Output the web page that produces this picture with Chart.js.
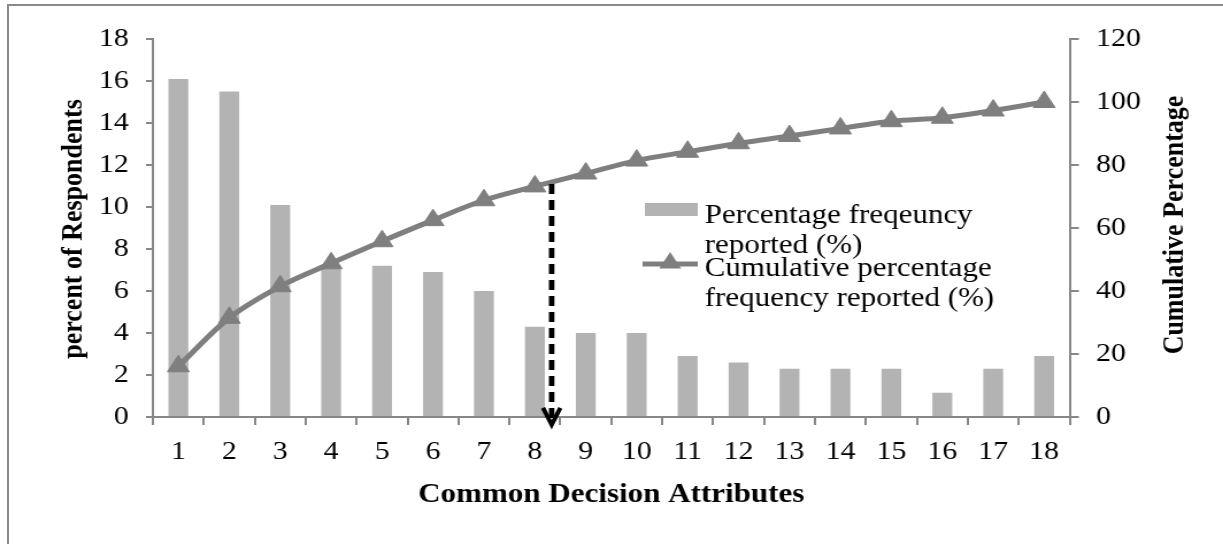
<!DOCTYPE html>
<html>
<head>
<meta charset="utf-8">
<script src="https://cdn.jsdelivr.net/npm/chart.js@4/dist/chart.umd.min.js"></script>
<style>
  html, body { margin: 0; padding: 0; background: #fff; }
  #wrap { position: relative; width: 1223px; height: 544px; overflow: hidden; }
  #stretch { position: absolute; left: 0; top: 0; width: 1064px; height: 544px;
             transform: scaleX(1.1495); transform-origin: 0 0; }
  #frame { position: absolute; left: 7px; top: 4px; width: 1300px; height: 700px;
           border-left: 2px solid #8a8a8a; border-top: 2px solid #8a8a8a; pointer-events: none; }
</style>
</head>
<body>
<div id="wrap">
  <div id="stretch"><canvas id="c" width="1064" height="544"></canvas></div>
  <div id="frame"></div>
</div>
<script>
// ---- data ----
const categories = ['1','2','3','4','5','6','7','8','9','10','11','12','13','14','15','16','17','18'];
const percentFrequency = [16.1, 15.5, 10.1, 7.2, 7.2, 6.9, 6.0, 4.3, 4.0, 4.0, 2.9, 2.6, 2.3, 2.3, 2.3, 1.15, 2.3, 2.9];
const cumulativePercent = [16.1, 31.5, 41.5, 48.8, 55.8, 62.5, 68.8, 73.2, 77.3, 81.4, 84.2, 86.9, 89.2, 91.6, 93.9, 95.0, 97.3, 100];
const leftTicks = [0, 2, 4, 6, 8, 10, 12, 14, 16, 18];
const rightTicks = [0, 20, 40, 60, 80, 100, 120];
const barLegend = ['Percentage freqeuncy', 'reported (%)'];
const lineLegend = ['Cumulative percentage', 'frequency reported (%)'];
const xTitle = 'Common Decision Attributes';
const yLeftTitle = 'percent of Respondents';
const yRightTitle = 'Cumulative Percentage';
// arrow marking the cut-off: category position (index) and value range on right axis
const arrowIndex = 7.33;
const arrowFrom = 74;
const arrowTo = -2.5;

const SERIF = "'Liberation Serif', 'Times New Roman', serif";
const AXIS_GREY = '#878787';
const BAR_GREY = '#b3b3b3';
const LINE_GREY = '#7f7f7f';

const overlay = {
  id: 'overlay',
  afterDraw(chart) {
    const ctx = chart.ctx;
    const ca = chart.chartArea;
    const x = chart.scales.x, y1 = chart.scales.y1;
    ctx.save();
    // arrow
    const ax = x.getPixelForValue(arrowIndex);
    const top = y1.getPixelForValue(arrowFrom);
    const tip = y1.getPixelForValue(arrowTo);
    ctx.strokeStyle = '#000';
    ctx.lineWidth = 4.8;
    ctx.setLineDash([10, 6]);
    ctx.beginPath(); ctx.moveTo(ax, top); ctx.lineTo(ax, tip - 3); ctx.stroke();
    ctx.setLineDash([]);
    ctx.lineWidth = 3.8;
    ctx.lineJoin = 'miter';
    ctx.beginPath();
    ctx.moveTo(ax - 7.5, tip - 17); ctx.lineTo(ax, tip); ctx.lineTo(ax + 7.5, tip - 17);
    ctx.stroke();

    // legend
    const lx = ca.left + 428;
    ctx.fillStyle = BAR_GREY;
    ctx.fillRect(lx, 203, 46, 13);
    ctx.strokeStyle = LINE_GREY; ctx.lineWidth = 5;
    ctx.beginPath(); ctx.moveTo(lx - 2, 264); ctx.lineTo(lx + 46, 264); ctx.stroke();
    ctx.fillStyle = LINE_GREY;
    const tcx = lx + 22, tcy = 263, r = 11;
    ctx.beginPath();
    ctx.moveTo(tcx, tcy - r);
    ctx.lineTo(tcx + r * 0.866, tcy + r * 0.5);
    ctx.lineTo(tcx - r * 0.866, tcy + r * 0.5);
    ctx.closePath(); ctx.fill();
    ctx.fillStyle = '#000';
    ctx.font = '27px ' + SERIF;
    ctx.textAlign = 'left'; ctx.textBaseline = 'alphabetic';
    const tx = lx + 52;
    ctx.fillText(barLegend[0], tx, 223);
    ctx.fillText(barLegend[1], tx, 253);
    ctx.fillText(lineLegend[0], tx, 276);
    ctx.fillText(lineLegend[1], tx, 306);

    // axis titles
    ctx.textAlign = 'center'; ctx.textBaseline = 'middle';
    ctx.font = 'bold 27px ' + SERIF;
    ctx.fillText(xTitle, (ca.left + ca.right) / 2, 495);
    ctx.font = 'bold 26px ' + SERIF;
    ctx.save();
    ctx.translate(64, (ca.top + ca.bottom) / 2 + 1);
    ctx.rotate(-Math.PI / 2);
    ctx.fillText(yLeftTitle, 0, 0);
    ctx.restore();
    ctx.save();
    ctx.translate(1022, (ca.top + ca.bottom) / 2 - 3);
    ctx.rotate(-Math.PI / 2);
    ctx.fillText(yRightTitle, 0, 0);
    ctx.restore();
    ctx.restore();
  }
};

const tickFont = { family: SERIF, size: 26 };

new Chart(document.getElementById('c'), {
  type: 'bar',
  data: {
    labels: categories,
    datasets: [
      {
        type: 'line',
        label: lineLegend.join(' '),
        data: cumulativePercent,
        yAxisID: 'y1',
        borderColor: LINE_GREY,
        backgroundColor: LINE_GREY,
        borderWidth: 5,
        pointStyle: 'triangle',
        pointRadius: 11,
        pointBorderWidth: 1,
        pointBorderColor: LINE_GREY,
        pointBackgroundColor: LINE_GREY,
        tension: 0.35,
        order: 0
      },
      {
        type: 'bar',
        label: barLegend.join(' '),
        data: percentFrequency,
        yAxisID: 'y',
        backgroundColor: BAR_GREY,
        barPercentage: 0.39,
        categoryPercentage: 1,
        order: 1
      }
    ]
  },
  options: {
    responsive: false,
    maintainAspectRatio: false,
    animation: false,
    devicePixelRatio: 1,
    layout: { padding: { top: 39, left: 0, right: 0, bottom: 0 } },
    plugins: { legend: { display: false }, tooltip: { enabled: false } },
    scales: {
      x: {
        offset: true,
        grid: { offset: true, drawOnChartArea: false, tickLength: 8, color: AXIS_GREY, lineWidth: 2 },
        border: { color: AXIS_GREY, width: 2 },
        ticks: { font: tickFont, color: '#000', padding: 12, maxRotation: 0 },
        afterFit(s) { s.height = 127; }
      },
      y: {
        position: 'left',
        min: 0, max: 18,
        afterBuildTicks(s) { s.ticks = leftTicks.map(v => ({ value: v })); },
        grid: { drawOnChartArea: false, tickLength: 6, color: AXIS_GREY, lineWidth: 2 },
        border: { color: AXIS_GREY, width: 2 },
        ticks: { font: tickFont, color: '#000', padding: 15 },
        afterFit(s) { s.width = 133; }
      },
      y1: {
        position: 'right',
        min: 0, max: 120,
        afterBuildTicks(s) { s.ticks = rightTicks.map(v => ({ value: v })); },
        grid: { drawOnChartArea: false, tickLength: 8, color: AXIS_GREY, lineWidth: 2 },
        border: { color: AXIS_GREY, width: 2 },
        ticks: { font: tickFont, color: '#000', padding: 15 },
        afterFit(s) { s.width = 133.5; }
      }
    }
  },
  plugins: [overlay]
});
</script>
</body>
</html>
